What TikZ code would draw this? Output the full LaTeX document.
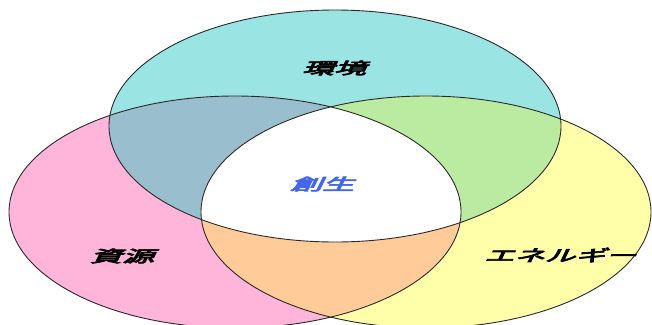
\documentclass[tikz,border=0pt]{standalone}
\usepackage{fontspec}
\newfontfamily\jp[FakeSlant=0.25,FakeBold=4]{Noto Sans CJK JP}
\definecolor{ctop}{HTML}{9BE4E4}
\definecolor{cleft}{HTML}{FFB4DA}
\definecolor{cright}{HTML}{FFFFAA}
\definecolor{ctl}{HTML}{99BECD}
\definecolor{ctr}{HTML}{BBEBA0}
\definecolor{clr}{HTML}{FFCC99}
\definecolor{cblue}{HTML}{4466EE}
\definecolor{cline}{HTML}{2A2A2A}
\tikzset{
  lbl/.style={inner sep=0pt, font=\jp\fontsize{16}{16}\selectfont, xscale=2, transform shape},
  ring/.style={draw=cline, line width=0.9pt}
}
\begin{document}
\begin{tikzpicture}[x=1pt,y=-1pt]
\useasboundingbox[fill=white] (0,0) rectangle (652,324);
% base fills
\fill[ctop] (335,126) ellipse [x radius=226pt, y radius=116pt];
\fill[cleft] (235,212) ellipse [x radius=226pt, y radius=116pt];
\fill[cright] (426,212) ellipse [x radius=225pt, y radius=116pt];
% pairwise overlaps
\begin{scope}
  \clip (335,126) ellipse [x radius=226pt, y radius=116pt];
  \fill[ctl] (235,212) ellipse [x radius=226pt, y radius=116pt];
  \fill[ctr] (426,212) ellipse [x radius=225pt, y radius=116pt];
\end{scope}
\begin{scope}
  \clip (235,212) ellipse [x radius=226pt, y radius=116pt];
  \fill[clr] (426,212) ellipse [x radius=225pt, y radius=116pt];
  \clip (426,212) ellipse [x radius=225pt, y radius=116pt];
  \fill[white] (335,126) ellipse [x radius=226pt, y radius=116pt];
\end{scope}
% outlines
\draw[ring] (335,126) ellipse [x radius=226pt, y radius=116pt];
\draw[ring] (235,212) ellipse [x radius=226pt, y radius=116pt];
\draw[ring] (426,212) ellipse [x radius=225pt, y radius=116pt];
% labels
\node[lbl] (kankyo) at (334,68) {環境};
\node[lbl, text=cblue] (sousei) at (322,184) {創生};
\node[lbl] (shigen) at (122,256) {資源};
\node[lbl, xscale=0.95] (energy) at (560,255) {エネルギー};
\end{tikzpicture}
\end{document}
